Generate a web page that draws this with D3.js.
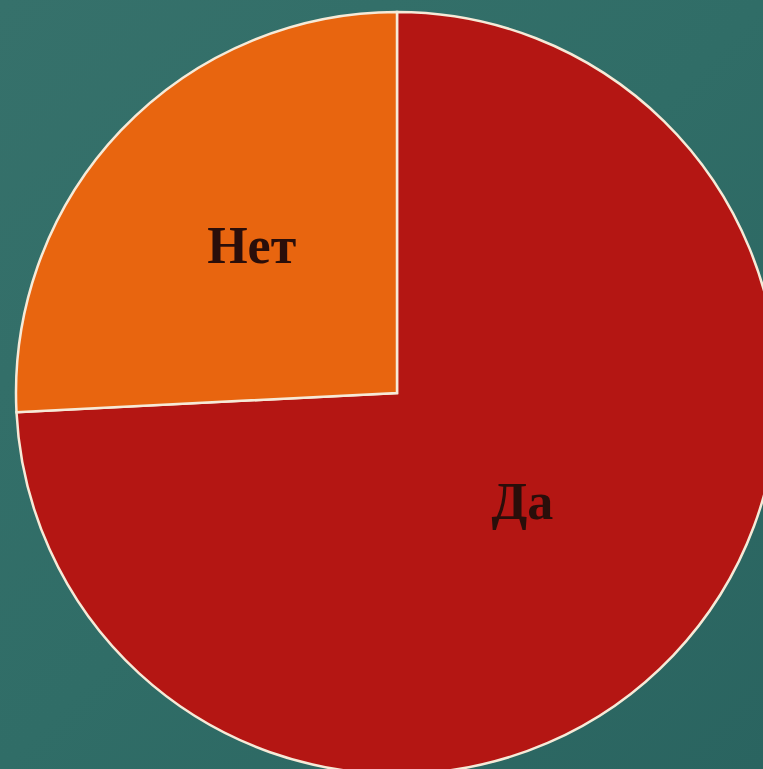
<!DOCTYPE html>
<html>
<head>
<meta charset="utf-8">
<script src="https://cdn.jsdelivr.net/npm/d3@7"></script>
<style>
html,body{margin:0;padding:0;overflow:hidden;background:#2f6b66;}
svg{display:block;}
</style>
</head>
<body>
<script>
const categories = ["Да", "Нет"];
const values = [74.2, 25.8];
const colors = ["#b41613", "#e8650f"];

const W = 763, H = 769;
const cx = 397, cy = 393, R = 381;

const svg = d3.select("body").append("svg").attr("width", W).attr("height", H);
const defs = svg.append("defs");
const grad = defs.append("linearGradient").attr("id", "bg")
  .attr("x1", "0%").attr("y1", "0%").attr("x2", "100%").attr("y2", "100%");
grad.append("stop").attr("offset", "0%").attr("stop-color", "#36716b");
grad.append("stop").attr("offset", "50%").attr("stop-color", "#306d67");
grad.append("stop").attr("offset", "100%").attr("stop-color", "#2a6460");
svg.append("rect").attr("width", W).attr("height", H).attr("fill", "url(#bg)");

const data = categories.map((c, i) => ({name: c, value: values[i], color: colors[i]}));
const pie = d3.pie().sort(null).value(d => d.value);
const arcs = pie(data);
const arc = d3.arc().innerRadius(0).outerRadius(R);

const g = svg.append("g").attr("transform", `translate(${cx},${cy})`);
g.selectAll("path").data(arcs).enter().append("path")
  .attr("d", arc)
  .attr("fill", d => d.data.color)
  .attr("stroke", "#f6ead8")
  .attr("stroke-width", 2.5)
  .attr("stroke-linejoin", "miter");

const labelR = [0.44, 0.548];
const labelShift = [[4, -8], [6, -4]];
g.selectAll("text").data(arcs).enter().append("text")
  .attr("transform", (d, i) => {
    const mid = (d.startAngle + d.endAngle) / 2;
    const r = R * labelR[i];
    return `translate(${Math.sin(mid) * r + labelShift[i][0]},${-Math.cos(mid) * r + labelShift[i][1]})`;
  })
  .attr("text-anchor", "middle")
  .attr("dy", "0.35em")
  .attr("font-family", "'Liberation Serif','DejaVu Serif',serif")
  .attr("font-weight", "bold")
  .attr("font-size", 52)
  .attr("fill", "#2a0e0a")
  .text(d => d.data.name);
</script>
</body>
</html>
